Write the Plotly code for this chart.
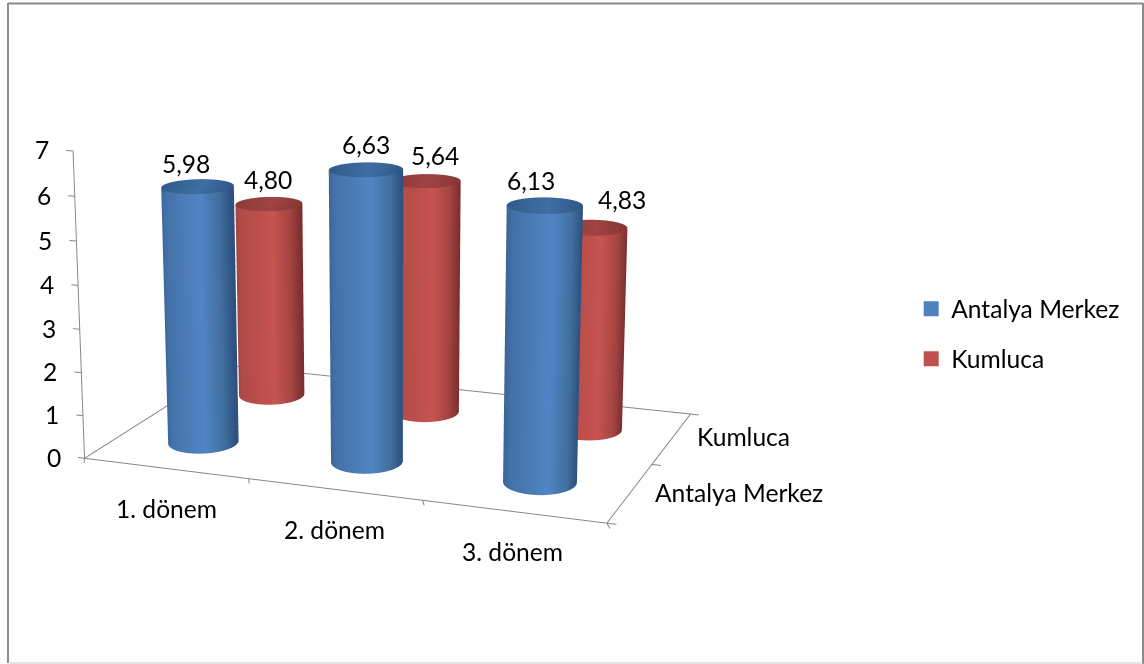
import numpy as np
import plotly.graph_objects as go

# Chart data
categories = ["1. dönem", "2. dönem", "3. dönem"]
series_names = ["Antalya Merkez", "Kumluca"]
antalya_merkez = [5.98, 6.63, 6.13]
kumluca = [4.80, 5.64, 4.83]
z_ticks = [0, 1, 2, 3, 4, 5, 6, 7]

W, H = 1144, 664

# Scene box and view
XR, YR, ZR = (-1.5, 4.5), (-1.5, 3.5), (-0.1, 7.1)
EYE = np.array([0.83569, -1.54540, 1.19418])
CENTER = np.array([0.55623, 0.19842, -0.08417])
ASPECT = np.array([2.84212, 1.09687, 0.72394])
# Oblique placement: x += X_PER_Y*y + X_PER_Z*z, y += Y_PER_Z*z; z stays the plotted value
X_PER_Y, X_PER_Z, Y_PER_Z = 0.19876, -0.01464, 0.26787
RADIUS_X, RADIUS_Y = 0.198, 0.215

FONT_WORDS = dict(family="Lato", size=24.6, color="#000000")
FONT_NUMBERS = dict(family="Lato", size=24.6, color="#000000")
AXIS_GREY = "#868686"

BLUE_SIDE = [[0, "#3a6597"], [0.1, "#4371a8"], [0.5, "#4f81bd"], [0.62, "#5085c5"], [0.86, "#41709f"], [1, "#2d5080"]]
RED_SIDE = [[0, "#a04442"], [0.1, "#b04b48"], [0.5, "#c0504d"], [0.62, "#c85450"], [0.86, "#a54543"], [1, "#7c2f2d"]]
BLUE_TOP = [[0, "#305c8c"], [0.55, "#3f6fa3"], [1, "#2f5786"]]
RED_TOP = [[0, "#8c3a38"], [0.55, "#a04442"], [1, "#853634"]]
FLAT = dict(ambient=1, diffuse=0, specular=0, fresnel=0)


def place(x, y, z):
    x, y, z = np.broadcast_arrays(*(np.asarray(v, float) for v in (x, y, z)))
    return x + X_PER_Y * y + X_PER_Z * z, y + Y_PER_Z * z, z


# Horizontal screen direction, used to shade the cylinders across their width
view = EYE - CENTER
right = np.cross([0, 0, 1], view)
right = right / np.linalg.norm(right)

fig = go.Figure()
theta = np.linspace(0, 2 * np.pi, 145)

for row, (vals, side, top) in enumerate(zip((antalya_merkez, kumluca), (BLUE_SIDE, RED_SIDE), (BLUE_TOP, RED_TOP))):
    for col, value in enumerate(vals):
        cx, cy = col + 0.5, row + 0.5
        ring_x = cx + RADIUS_X * np.cos(theta)
        ring_y = cy + RADIUS_Y * np.sin(theta)

        px, py, _ = place(ring_x, ring_y, 0)
        qx, qy, _ = place(cx, cy, 0)
        shade = (px - qx) / (XR[1] - XR[0]) * ASPECT[0] * right[0] + (py - qy) / (YR[1] - YR[0]) * ASPECT[1] * right[1]
        shade = shade / np.abs(shade).max()

        heights = np.array([0 * theta, 0 * theta + value])
        sx, sy, sz = place(np.array([ring_x, ring_x]), np.array([ring_y, ring_y]), heights)
        fig.add_trace(go.Surface(
            x=sx, y=sy, z=sz, surfacecolor=np.array([shade, shade]), cmin=-1, cmax=1,
            colorscale=side, showscale=False, hoverinfo="skip", lighting=FLAT,
        ))

        rings = np.array([0.0, 1.0])[:, None]
        tx, ty, tz = place(
            cx + rings * RADIUS_X * np.cos(theta),
            cy + rings * RADIUS_Y * np.sin(theta),
            value + 0 * rings * theta,
        )
        fig.add_trace(go.Surface(
            x=tx, y=ty, z=tz, surfacecolor=rings * shade, cmin=-1, cmax=1,
            colorscale=top, showscale=False, hoverinfo="skip", lighting=FLAT,
        ))

# Floor outline, value axis and tick marks
lx, ly, lz = [], [], []


def segment(a, b):
    ax, ay, az = place(*a)
    bx, by, bz = place(*b)
    lx.extend([float(ax), float(bx), None])
    ly.extend([float(ay), float(by), None])
    lz.extend([float(az), float(bz), None])


segment((0, 0, 0), (3, 0, 0))
segment((3, 0, 0), (3, 2, 0))
segment((3, 2, 0), (0, 2, 0))
segment((0, 2, 0), (0, 0, 0))
segment((0, 0, 0), (0, 0, 7))
for z in z_ticks:
    segment((0, 0, z), (-0.042, 0, z))
for i in range(len(categories) + 1):
    segment((i, 0, 0), (i + 0.035, -0.072, 0))
for j in range(len(series_names) + 1):
    segment((3, j, 0), (3.05, j, 0))
fig.add_trace(go.Scatter3d(
    x=lx, y=ly, z=lz, mode="lines", line=dict(color=AXIS_GREY, width=2),
    hoverinfo="skip", showlegend=False,
))

# Legend entries
for name, colour in zip(series_names, ("#4f81bd", "#c0504d")):
    fig.add_trace(go.Scatter3d(
        x=[None], y=[None], z=[None], mode="markers", name=name, legendgroup=name,
        marker=dict(symbol="square", size=15, color=colour),
    ))

# Text placed in the scene
notes = []


def note(x, y, z, text, font, **kw):
    ax, ay, az = place(x, y, z)
    notes.append(dict(x=float(ax), y=float(ay), z=float(az), text=text, showarrow=False, font=font, **kw))


label_shifts = [[(-12, 23), (0, 25), (-14, 25)], [(-1, 25), (9, 26), (30, 28)]]
for row, vals in enumerate((antalya_merkez, kumluca)):
    for col, value in enumerate(vals):
        dx, dy = label_shifts[row][col]
        note(col + 0.5, row + 0.5, value, f"{value:.2f}".replace(".", ","), FONT_NUMBERS, xshift=dx, yshift=dy)
for z in z_ticks:
    note(0, 0, z, str(z), FONT_NUMBERS, xshift=-31, yshift=1)
for i, cat in enumerate(categories):
    note(i + 0.5, 0, 0, cat, FONT_WORDS, xshift=[1, 0, -1][i], yshift=-40)
for j, name in enumerate(series_names):
    note(3, j + 0.5, 0, name, FONT_WORDS, xanchor="left", xshift=23, yshift=2 * j)

hidden_axis = dict(
    showgrid=False, showline=False, zeroline=False, showticklabels=False,
    showbackground=False, ticks="", title="", showspikes=False,
)


def frame_line(x0, y0, x1, y1, colour, width):
    return dict(type="line", xref="paper", yref="paper", x0=x0 / W, x1=x1 / W,
                y0=1 - y0 / H, y1=1 - y1 / H, line=dict(color=colour, width=width))


fig.update_layout(
    width=W, height=H, margin=dict(l=0, r=0, t=0, b=0), paper_bgcolor="white",
    font=dict(family="Lato"),
    legend=dict(
        x=0.7965, y=0.569, xanchor="left", yanchor="top", tracegroupgap=15,
        font=dict(family="Lato", size=24.6, color="#000000"), bgcolor="rgba(0,0,0,0)",
    ),
    scene=dict(
        domain=dict(x=[0, 1], y=[0, 1]),
        aspectmode="manual",
        aspectratio=dict(x=ASPECT[0], y=ASPECT[1], z=ASPECT[2]),
        camera=dict(
            eye=dict(x=EYE[0], y=EYE[1], z=EYE[2]),
            center=dict(x=CENTER[0], y=CENTER[1], z=CENTER[2]),
            up=dict(x=0, y=0, z=1),
            projection=dict(type="perspective"),
        ),
        xaxis=dict(range=XR, **hidden_axis),
        yaxis=dict(range=YR, **hidden_axis),
        zaxis=dict(range=ZR, **hidden_axis),
        annotations=notes,
    ),
    shapes=[
        frame_line(8, 3.5, 1143, 3.5, "#8c8c8c", 2),
        frame_line(8, 3, 8, 663, "#8c8c8c", 2),
        frame_line(1143, 3, 1143, 664, "#8c8c8c", 2),
        frame_line(8, 663, 1143, 663, "#c8c8c8", 1),
    ],
)
fig.write_html("out.html")
